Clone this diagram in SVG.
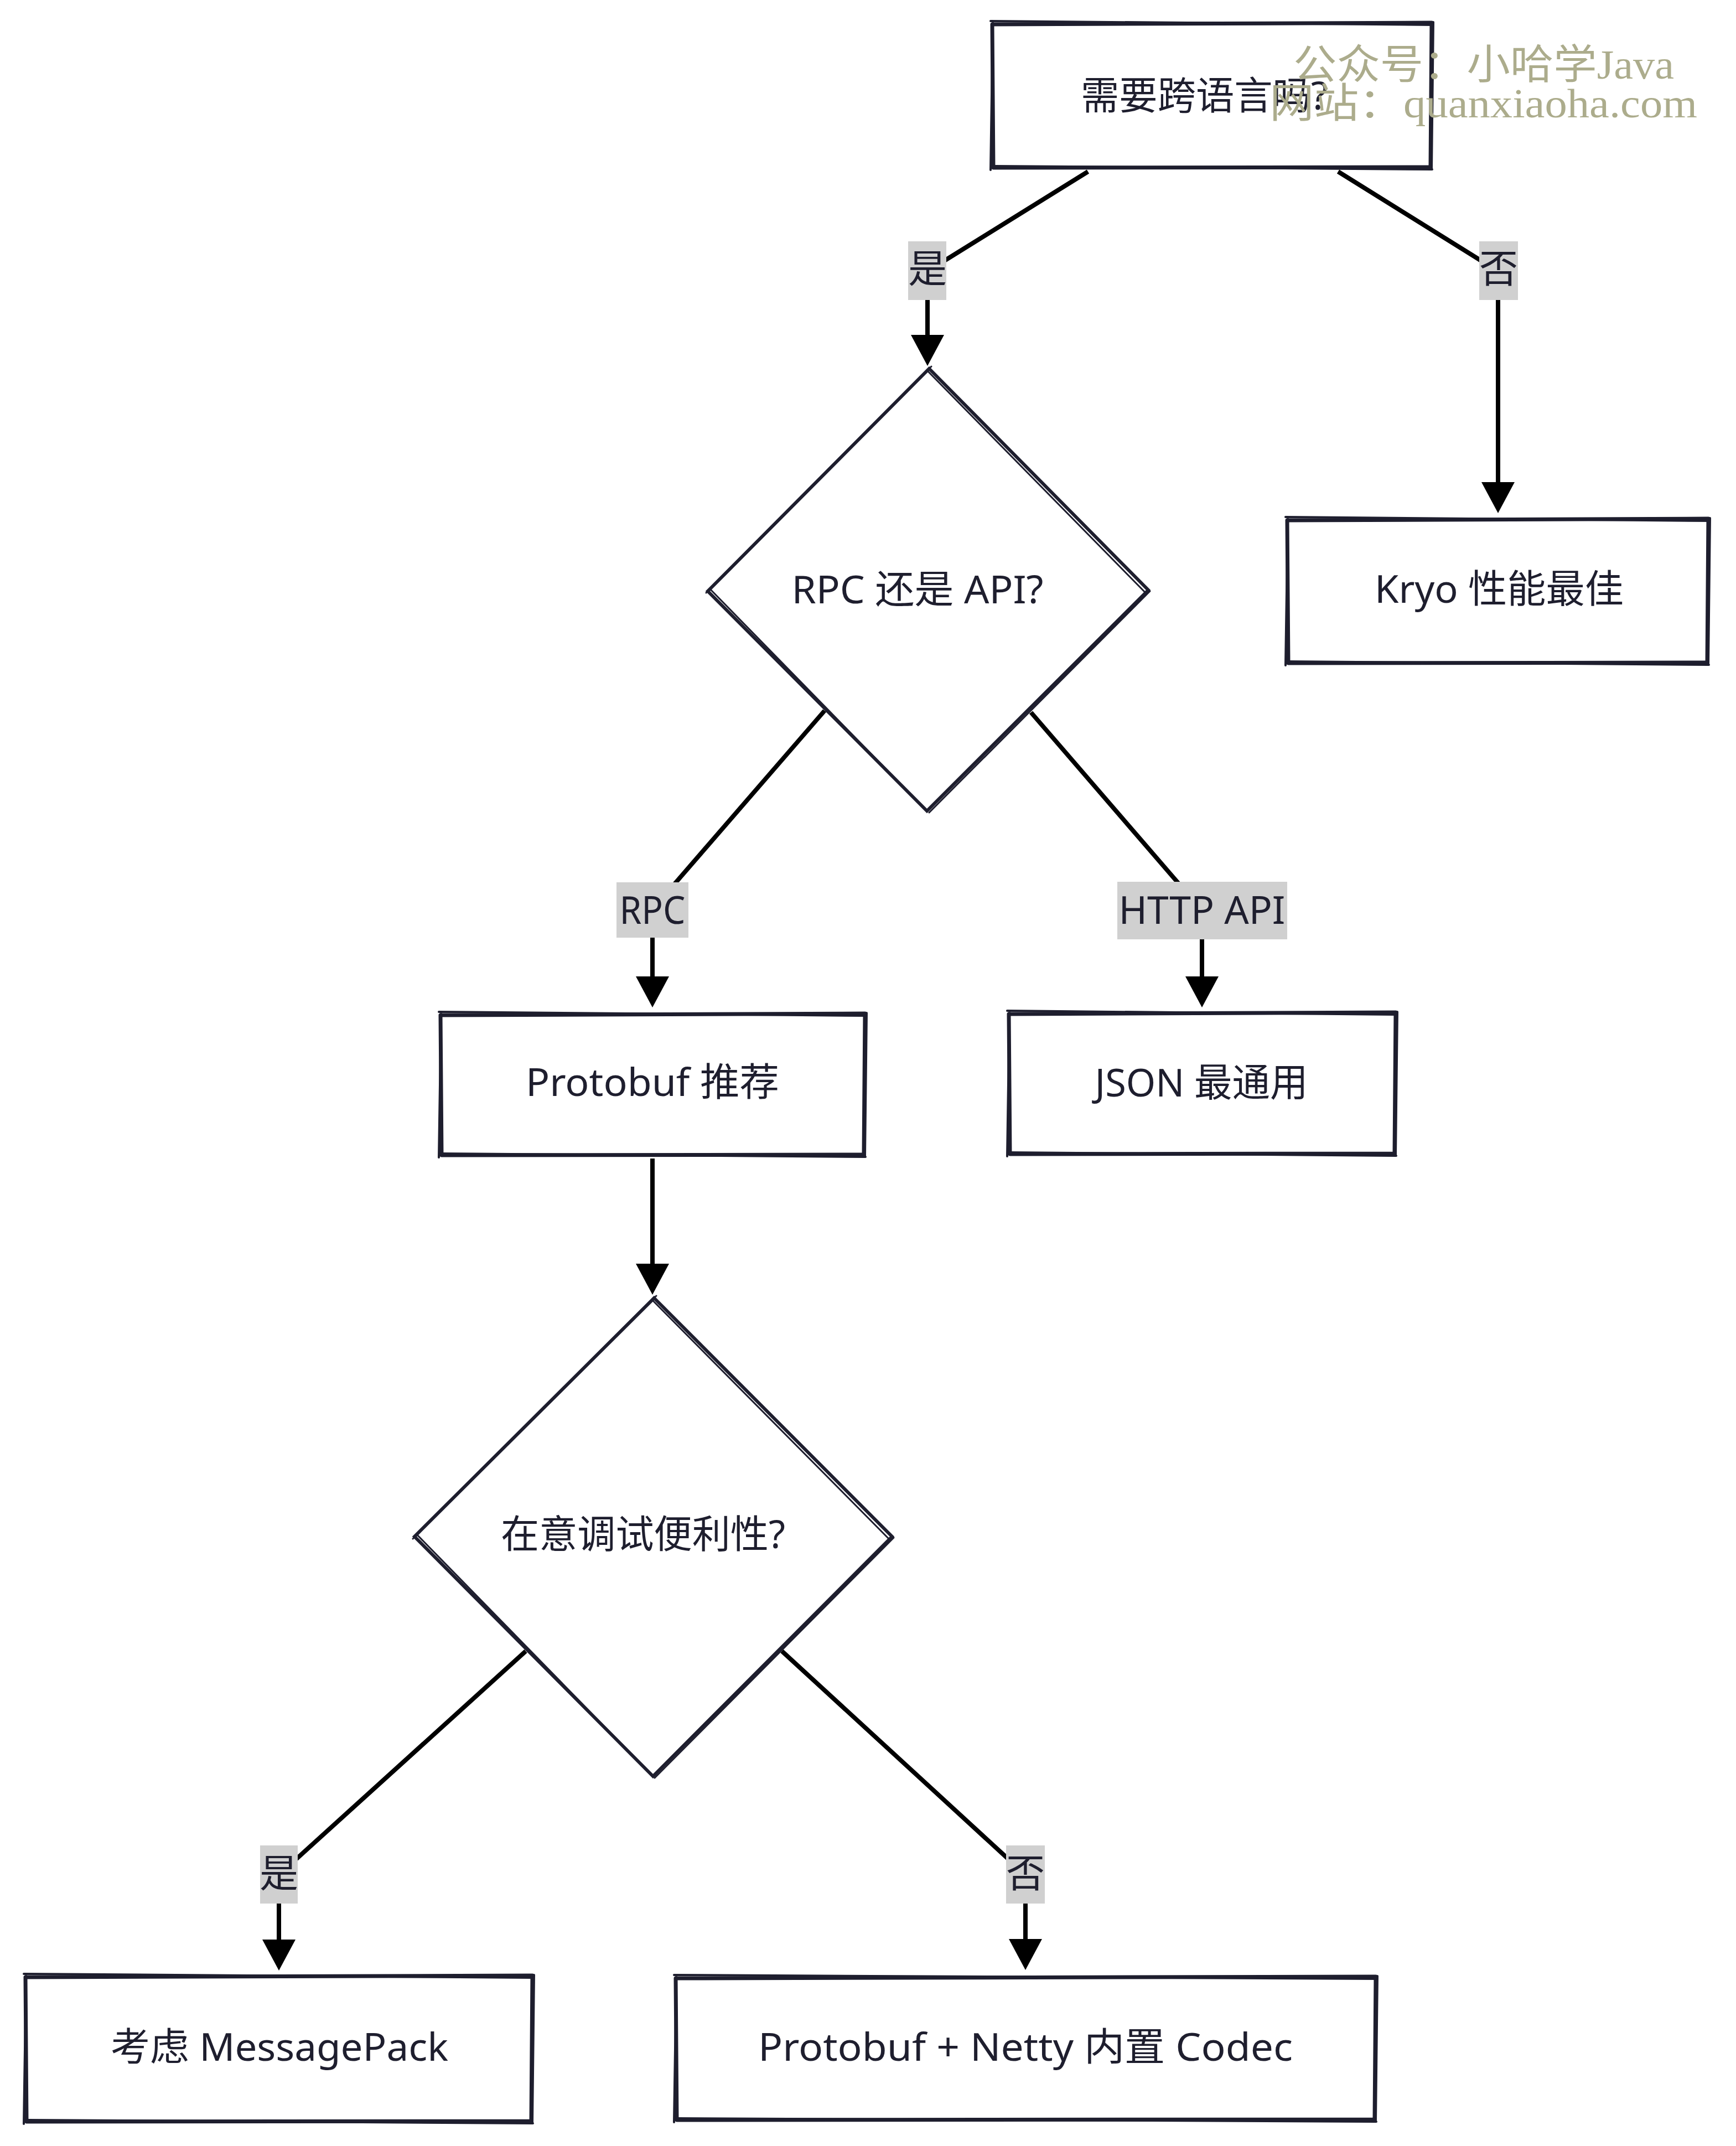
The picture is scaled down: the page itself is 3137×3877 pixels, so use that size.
<svg xmlns="http://www.w3.org/2000/svg" width="3137" height="3877" viewBox="0 0 3137 3877">
<style>
.bg{fill:#ffffff}
.box{fill:#ffffff;stroke:#1e1e2e;stroke-width:7;stroke-linejoin:round;stroke-linecap:round}
.acc{fill:none;stroke:#1e1e2e;stroke-width:4;stroke-linecap:round}
.dia{fill:#ffffff;stroke:#1e1e2e;stroke-width:6;stroke-linejoin:miter}
.dacc{fill:none;stroke:#1e1e2e;stroke-width:3;stroke-linecap:round}
.txt{font-family:"Noto Sans","Noto Sans CJK SC",sans-serif;font-size:70px;fill:#1e1e2e;text-anchor:middle}
.edge{fill:none;stroke:#000000;stroke-width:8;stroke-linejoin:round;marker-end:url(#arrow)}
.lbl{fill:#d0d0d0}
.wm{font-family:"Liberation Serif","Noto Sans CJK SC",serif;font-size:74px;fill:#acac8c}
</style>
<defs>
<marker id="arrow" viewBox="0 0 56 60" refX="11" refY="30" markerWidth="56" markerHeight="60" markerUnits="userSpaceOnUse" orient="auto">
<path d="M0,0 L56,30 L0,60 Z" fill="#000000"/>
</marker>
</defs>
<rect class="bg" x="0" y="0" width="3137" height="3877"/>

<g id="n-cross-lang">
<path class="box" d="M1793,44 L2587,41 L2585,302 L1795,303 Z"/>
<path class="acc" d="M1790,38 L2589,45 M2590,40 L2587,305 M2588,306 L1798,300 M1790,307 L1794,40"/>
<text class="txt" x="2176" y="198" textLength="446" lengthAdjust="spacingAndGlyphs">需要跨语言吗?</text>
</g>

<g id="n-rpc-or-api">
<path class="dia" d="M1679,666 L2075,1066 L1675,1465 L1279,1068 Z"/>
<path class="dacc" d="M1677,671 L2071,1072 M2078,1068 L1679,1468 M1671,1461 L1283,1064 M1276,1071 L1683,662"/>
<text class="txt" x="1658" y="1090" textLength="455" lengthAdjust="spacingAndGlyphs">RPC 还是 API?</text>
</g>

<g id="n-kryo">
<path class="box" d="M2326,940 L3087,937 L3085,1197 L2328,1198 Z"/>
<path class="acc" d="M2323,934 L3089,941 M3090,936 L3087,1200 M3088,1201 L2331,1195 M2323,1202 L2327,936"/>
<text class="txt" x="2709" y="1089" textLength="450" lengthAdjust="spacingAndGlyphs">Kryo 性能最佳</text>
</g>

<g id="n-protobuf">
<path class="box" d="M796,1834 L1563,1831 L1561,2086 L798,2087 Z"/>
<path class="acc" d="M793,1828 L1565,1835 M1566,1830 L1563,2089 M1564,2090 L801,2084 M793,2091 L797,1830"/>
<text class="txt" x="1179" y="1980" textLength="458" lengthAdjust="spacingAndGlyphs">Protobuf 推荐</text>
</g>

<g id="n-json">
<path class="box" d="M1823,1832 L2522,1829 L2520,2084 L1825,2085 Z"/>
<path class="acc" d="M1820,1826 L2524,1833 M2525,1828 L2522,2087 M2523,2088 L1828,2082 M1820,2089 L1824,1828"/>
<text class="txt" x="2171" y="1981" textLength="385" lengthAdjust="spacingAndGlyphs">JSON 最通用</text>
</g>

<g id="n-debug">
<path class="dia" d="M1182,2345 L1612,2776 L1180,3209 L749,2776 Z"/>
<path class="dacc" d="M1180,2350 L1608,2782 M1615,2778 L1183,3212 M1176,3205 L753,2772 M746,2780 L1186,2341"/>
<text class="txt" x="1162" y="2797" textLength="514" lengthAdjust="spacingAndGlyphs">在意调试便利性?</text>
</g>

<g id="n-msgpack">
<path class="box" d="M46,3572 L962,3569 L960,3832 L48,3833 Z"/>
<path class="acc" d="M43,3566 L964,3573 M965,3568 L962,3835 M963,3836 L51,3830 M43,3837 L47,3568"/>
<text class="txt" x="505" y="3723" textLength="610" lengthAdjust="spacingAndGlyphs">考虑 MessagePack</text>
</g>

<g id="n-netty">
<path class="box" d="M1221,3574 L2486,3571 L2484,3829 L1223,3830 Z"/>
<path class="acc" d="M1218,3568 L2488,3575 M2489,3570 L2486,3832 M2487,3833 L1226,3827 M1218,3834 L1222,3570"/>
<text class="txt" x="1853" y="3723" textLength="966" lengthAdjust="spacingAndGlyphs">Protobuf + Netty 内置 Codec</text>
</g>

<g id="connectors">
<path class="edge" d="M1966,310 L1676,490 L1676,616"/>
<path class="edge" d="M2418,310 L2707,490 L2707,882"/>
<path class="edge" d="M1490,1284 L1179,1643 L1179,1775"/>
<path class="edge" d="M1863,1287 L2172,1645 L2172,1775"/>
<path class="edge" d="M1179,2093 L1179,2294"/>
<path class="edge" d="M950,2983 L504,3387 L504,3515"/>
<path class="edge" d="M1413,2983 L1853,3387 L1853,3514"/>

<rect class="lbl" x="1641" y="436" width="69" height="106"/>
<text class="txt" x="1676" y="511">是</text>
<rect class="lbl" x="2673" y="436" width="70" height="106"/>
<text class="txt" x="2708" y="511">否</text>
<rect class="lbl" x="1114" y="1594" width="130" height="100"/>
<text class="txt" x="1179" y="1669" textLength="119" lengthAdjust="spacingAndGlyphs">RPC</text>
<rect class="lbl" x="2019" y="1593" width="307" height="104"/>
<text class="txt" x="2172" y="1669" textLength="301" lengthAdjust="spacingAndGlyphs">HTTP API</text>
<rect class="lbl" x="470" y="3334" width="68" height="105"/>
<text class="txt" x="504" y="3410">是</text>
<rect class="lbl" x="1818" y="3334" width="70" height="105"/>
<text class="txt" x="1853" y="3410">否</text>
</g>

<g id="watermark">
<text class="wm" x="2337" y="142" textLength="688" lengthAdjust="spacingAndGlyphs">公众号：小哈学Java</text>
<text class="wm" x="2294" y="212" textLength="773" lengthAdjust="spacingAndGlyphs">网站：quanxiaoha.com</text>
</g>
</svg>
